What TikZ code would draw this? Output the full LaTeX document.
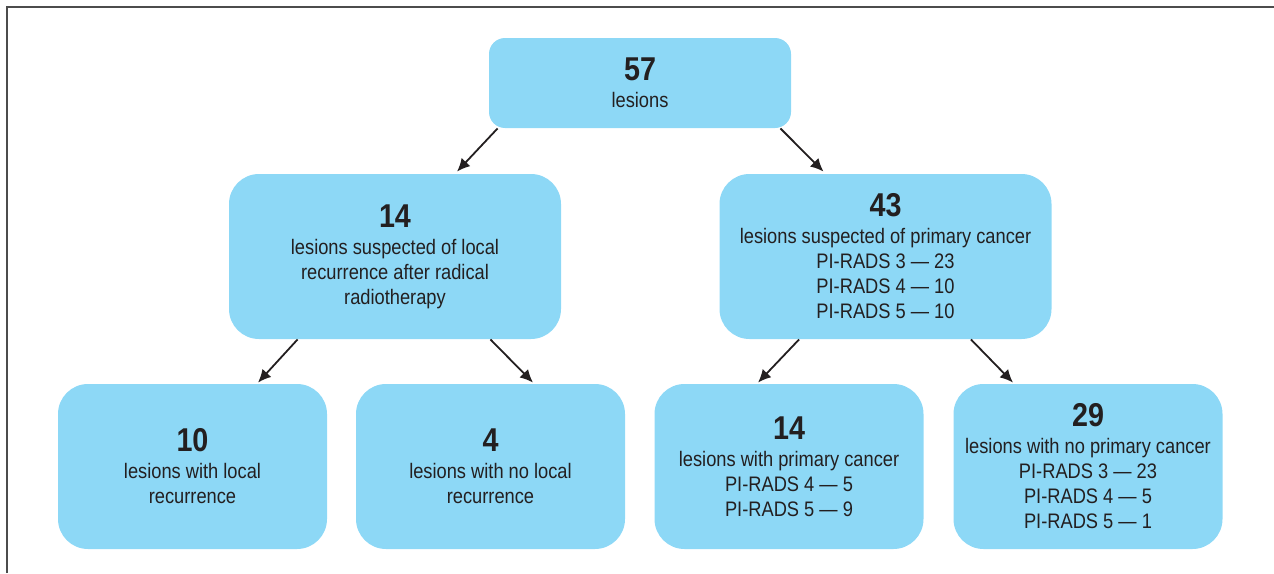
\documentclass[tikz,border=0pt]{standalone}
\usepackage{fontspec}
\setmainfont{Liberation Sans}[FakeStretch=0.87]
\usepackage{xcolor}
\definecolor{boxblue}{HTML}{8DD8F6}
\definecolor{inkgray}{HTML}{231F20}
\newcommand{\num}[1]{{\fontsize{16.5}{20}\selectfont\bfseries #1}\\[1pt]}
\usetikzlibrary{arrows.meta}
\usetikzlibrary{calc}
\usetikzlibrary{positioning}

\begin{document}
\begin{tikzpicture}[x=0.5pt, y=-0.5pt,
    box/.style={fill=boxblue, draw=none, rounded corners=15pt, align=center,
      text=inkgray, font=\fontsize{10.5}{12.5}\selectfont, inner sep=0pt},
    topbox/.style={box, rounded corners=8pt, minimum width=151pt, minimum height=45pt},
    midbox/.style={box, minimum width=166pt, minimum height=82.5pt},
    lowbox/.style={box, minimum width=134.5pt, minimum height=82.5pt},
    arr/.style={-{Latex[length=6.5pt,width=6pt]}, line width=0.9pt, draw=inkgray}]

      \useasboundingbox (0,0) rectangle (1274,573);

      % frame
      \draw [line width=1.2pt, black!70] (7,573) -- (7,7) -- (1274,7);

      % boxes
      \node [topbox] (all) at (640,83) {\num{57}lesions};
      \node [midbox] (recur) at (395,256.5)
        {\num{14}lesions suspected of local\\recurrence after radical\\radiotherapy};
      \node [midbox] (prim) at (885.5,256.5)
        {\num{43}lesions suspected of primary cancer\\PI-RADS 3 --- 23\\PI-RADS 4 --- 10\\PI-RADS 5 --- 10};
      \node [lowbox] (localyes) at (192.5,466.5) {\num{10}lesions with local\\recurrence};
      \node [lowbox] (localno) at (490.5,466.5) {\num{4}lesions with no local\\recurrence};
      \node [lowbox] (primyes) at (789,466.5)
        {\num{14}lesions with primary cancer\\PI-RADS 4 --- 5\\PI-RADS 5 --- 9};
      \node [lowbox] (primno) at (1088,466.5)
        {\num{29}lesions with no primary cancer\\PI-RADS 3 --- 23\\PI-RADS 4 --- 5\\PI-RADS 5 --- 1};

      % arrows
      \draw [arr] ($(all.south west)+(9,0)$) -- ($(recur.north)+(62,-2)$);
      \draw [arr] ($(all.south east)+(-11,0)$) -- ($(prim.north)+(-62,-2)$);
      \draw [arr] ($(recur.south west)+(69,0)$) -- ($(localyes.north)+(65.5,-1)$);
      \draw [arr] ($(recur.south east)+(-71,0)$) -- ($(localno.north)+(42.5,-1)$);
      \draw [arr] ($(prim.south west)+(80,0)$) -- ($(primyes.north)+(-31,-1)$);
      \draw [arr] ($(prim.south east)+(-81,0)$) -- ($(primno.north)+(-75,-1)$);

    \end{tikzpicture}
\end{document}
